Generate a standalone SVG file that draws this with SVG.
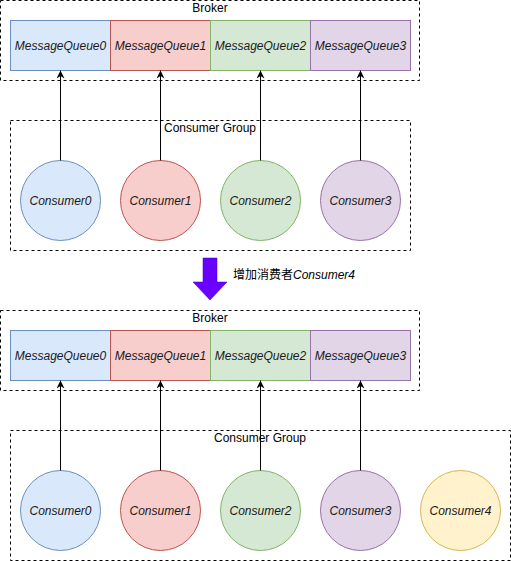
<svg xmlns="http://www.w3.org/2000/svg" width="511" height="561" viewBox="0 0 511 561">
<defs>
<marker id="ah" viewBox="0 0 10 10" refX="10" refY="5" markerWidth="8" markerHeight="8" markerUnits="userSpaceOnUse" orient="auto">
<path d="M0,0 L10,5 L0,10 L3,5 Z" fill="#000"/>
</marker>
</defs>
<style>
.dash{fill:none;stroke:#000;stroke-dasharray:3 3;}
.lbl{font-family:"Liberation Sans",Arial,sans-serif;font-size:12px;fill:#000;text-anchor:middle;}
.t{font-family:"Liberation Sans",Arial,sans-serif;font-size:12px;font-style:italic;fill:#1a1a1a;text-anchor:middle;}
.b{fill:#dae8fc;stroke:#6c8ebf;}
.r{fill:#f8cecc;stroke:#b85450;}
.g{fill:#d5e8d4;stroke:#82b366;}
.p{fill:#e1d5e7;stroke:#9673a6;}
.y{fill:#fff2cc;stroke:#d6b656;}
.e{stroke:#000;stroke-width:1;fill:none;marker-end:url(#ah);}
</style>
<rect width="511" height="561" fill="#fff"/>

<g id="broker1">
<rect class="dash" x="0.5" y="0.5" width="419" height="80"/>
<text class="lbl" x="210" y="12">Broker</text>
</g>
<g id="mq0a"><rect class="b" x="10.5" y="20.5" width="100" height="50"/><text class="t" x="60.5" y="50">MessageQueue0</text></g>
<g id="mq1a"><rect class="r" x="110.5" y="20.5" width="100" height="50"/><text class="t" x="160.5" y="50">MessageQueue1</text></g>
<g id="mq2a"><rect class="g" x="210.5" y="20.5" width="100" height="50"/><text class="t" x="260.5" y="50">MessageQueue2</text></g>
<g id="mq3a"><rect class="p" x="310.5" y="20.5" width="100" height="50"/><text class="t" x="360.5" y="50">MessageQueue3</text></g>

<g id="group1">
<rect class="dash" x="10.5" y="120.5" width="400" height="130"/>
<text class="lbl" x="210" y="132">Consumer Group</text>
</g>
<g id="c0a"><circle class="b" cx="60.5" cy="200.5" r="40"/><text class="t" x="60.5" y="205">Consumer0</text></g>
<g id="c1a"><circle class="r" cx="160.5" cy="200.5" r="40"/><text class="t" x="160.5" y="205">Consumer1</text></g>
<g id="c2a"><circle class="g" cx="260.5" cy="200.5" r="40"/><text class="t" x="260.5" y="205">Consumer2</text></g>
<g id="c3a"><circle class="p" cx="360.5" cy="200.5" r="40"/><text class="t" x="360.5" y="205">Consumer3</text></g>

<g id="bigarrow">
<path d="M203,258 L217,258 L217,282 L227,282 L210,300 L193,282 L203,282 Z" fill="#6a00ff" stroke="#3700cc" stroke-width="0.5"/>
<text x="233" y="279" font-family="'Liberation Sans','Noto Sans CJK SC',sans-serif" font-size="12" fill="#000">增加消费者<tspan font-style="italic">Consumer4</tspan></text>
</g>

<g id="broker2">
<rect class="dash" x="0.5" y="310.5" width="419" height="80"/>
<text class="lbl" x="210" y="322">Broker</text>
</g>
<g id="mq0b"><rect class="b" x="10.5" y="330.5" width="100" height="50"/><text class="t" x="60.5" y="360">MessageQueue0</text></g>
<g id="mq1b"><rect class="r" x="110.5" y="330.5" width="100" height="50"/><text class="t" x="160.5" y="360">MessageQueue1</text></g>
<g id="mq2b"><rect class="g" x="210.5" y="330.5" width="100" height="50"/><text class="t" x="260.5" y="360">MessageQueue2</text></g>
<g id="mq3b"><rect class="p" x="310.5" y="330.5" width="100" height="50"/><text class="t" x="360.5" y="360">MessageQueue3</text></g>

<g id="group2">
<rect class="dash" x="10.5" y="430.5" width="500" height="130"/>
<text class="lbl" x="260" y="442">Consumer Group</text>
</g>
<g id="c0b"><circle class="b" cx="60.5" cy="510.5" r="40"/><text class="t" x="60.5" y="515">Consumer0</text></g>
<g id="c1b"><circle class="r" cx="160.5" cy="510.5" r="40"/><text class="t" x="160.5" y="515">Consumer1</text></g>
<g id="c2b"><circle class="g" cx="260.5" cy="510.5" r="40"/><text class="t" x="260.5" y="515">Consumer2</text></g>
<g id="c3b"><circle class="p" cx="360.5" cy="510.5" r="40"/><text class="t" x="360.5" y="515">Consumer3</text></g>
<g id="c4b"><circle class="y" cx="460.5" cy="510.5" r="40"/><text class="t" x="460.5" y="515">Consumer4</text></g>

<g id="connectors">
<line class="e" x1="60.5" y1="160.5" x2="60.5" y2="70.5"/>
<line class="e" x1="160.5" y1="160.5" x2="160.5" y2="70.5"/>
<line class="e" x1="260.5" y1="160.5" x2="260.5" y2="70.5"/>
<line class="e" x1="360.5" y1="160.5" x2="360.5" y2="70.5"/>
<line class="e" x1="60.5" y1="470.5" x2="60.5" y2="380.5"/>
<line class="e" x1="160.5" y1="470.5" x2="160.5" y2="380.5"/>
<line class="e" x1="260.5" y1="470.5" x2="260.5" y2="380.5"/>
<line class="e" x1="360.5" y1="470.5" x2="360.5" y2="380.5"/>
</g>
</svg>
